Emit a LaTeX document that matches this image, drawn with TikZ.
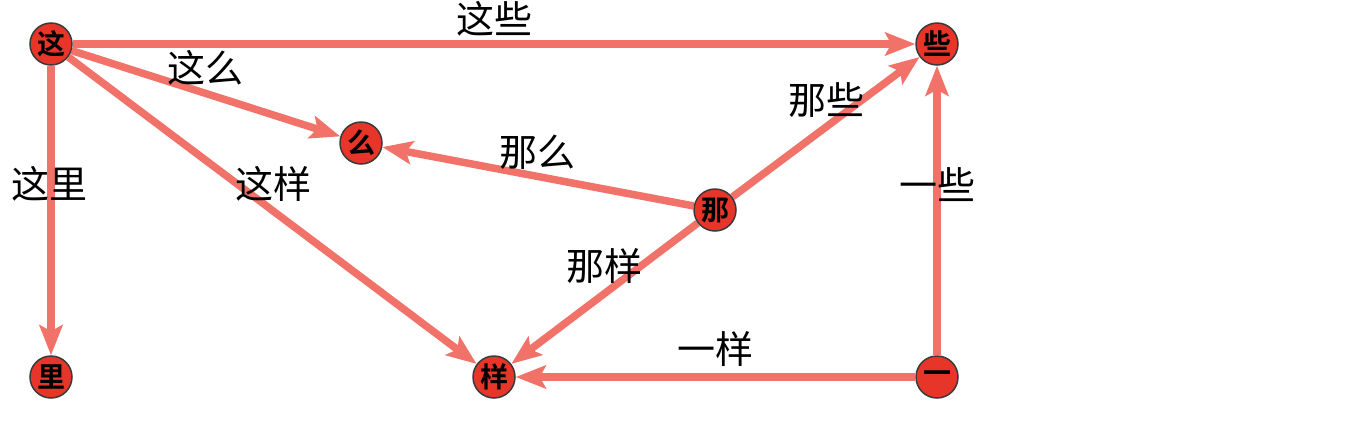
\documentclass[tikz,border=0pt]{standalone}
\usepackage{fontspec}
\setmainfont{Noto Sans CJK SC}[BoldFont=* Bold]
\usetikzlibrary{arrows.meta}
\definecolor{nodefill}{HTML}{E8352A}
\definecolor{edgecol}{HTML}{F07268}
\definecolor{nodeborder}{HTML}{3A3A3A}
\pgfdeclarelayer{bg}
\pgfsetlayers{bg,main}
\begin{document}
\begin{tikzpicture}[x=1pt,y=-1pt,
  vtx/.style={circle,fill=nodefill,draw=nodeborder,line width=1.5pt,minimum size=42pt,inner sep=0pt,font=\fontsize{28}{28}\selectfont\bfseries},
  edge/.style={draw=edgecol,line width=7.5pt,-{Stealth[length=30pt,width=23pt,inset=6pt]}},
  elab/.style={font=\fontsize{38}{38}\selectfont,inner sep=0pt}]
\useasboundingbox (0,0) rectangle (1372,426);
\node[vtx] (zhe) at (51,44) {这};
\node[vtx] (xie) at (937,44) {些};
\node[vtx] (me) at (361,143) {么};
\node[vtx] (na) at (715,210) {那};
\node[vtx] (li) at (51,377) {里};
\node[vtx] (yang) at (494,377) {样};
\node[vtx] (yi) at (937,377) {一};
\begin{pgfonlayer}{bg}
\draw[edge] (zhe) -- (xie);
\draw[edge] (zhe) -- (me);
\draw[edge] (zhe) -- (li);
\draw[edge] (zhe) -- (yang);
\draw[edge] (na) -- (me);
\draw[edge] (na) -- (xie);
\draw[edge] (na) -- (yang);
\draw[edge] (yi) -- (xie);
\draw[edge] (yi) -- (yang);
\end{pgfonlayer}
\node[elab] (l1) at (494,19) {这些};
\node[elab] (l2) at (205,68) {这么};
\node[elab] (l3) at (50,184) {这里};
\node[elab] (l4) at (273,184) {这样};
\node[elab] (l5) at (537,152) {那么};
\node[elab] (l6) at (826,100) {那些};
\node[elab] (l7) at (604,266) {那样};
\node[elab] (l8) at (937,185) {一些};
\node[elab] (l9) at (715,349) {一样};
\end{tikzpicture}
\end{document}
